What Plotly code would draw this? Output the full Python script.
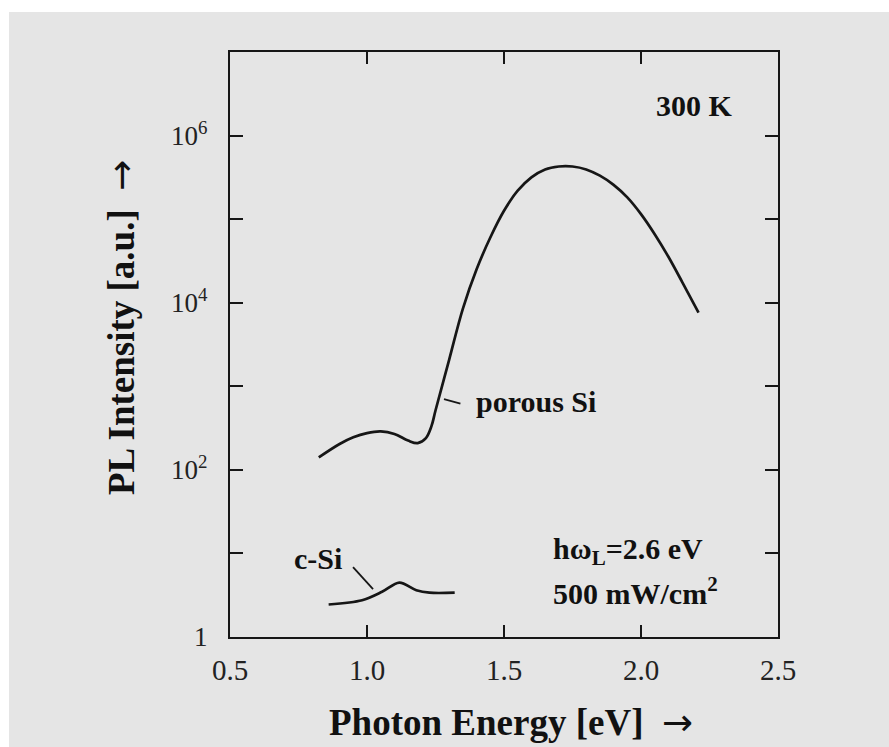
import plotly.graph_objects as go

# ---- data ----
porous_E = [0.824, 0.90, 0.95, 1.00, 1.05, 1.10, 1.15, 1.185, 1.215, 1.235,
            1.25, 1.30, 1.35, 1.40, 1.45, 1.50, 1.55, 1.60, 1.65, 1.70,
            1.75, 1.80, 1.85, 1.90, 1.95, 2.00, 2.05, 2.10, 2.15, 2.21]
porous_I = [141, 204, 245, 275, 288, 269, 224, 209, 240, 331,
            513, 2089, 8511, 25119, 60256, 125893, 218776, 316228, 393550, 426580,
            426580, 393550, 331131, 257040, 181970, 114815, 66069, 35481, 17783, 7586]

csi_E = [0.86, 0.982, 1.055, 1.118, 1.18, 1.228, 1.32]
csi_I = [2.45, 2.75, 3.47, 4.47, 3.63, 3.39, 3.39]

# leader lines of the curve labels
csi_lead_E = [0.949, 1.022]
csi_lead_I = [6.87, 3.75]
por_lead_E = [1.281, 1.341]
por_lead_I = [700, 620]

x_tickvals = [0.5, 1.0, 1.5, 2.0, 2.5]
x_ticktext = ["0.5", "1.0", "1.5", "2.0", "2.5"]
y_tickvals = [1, 100, 1e4, 1e6]
y_ticktext = ["1", "10<sup>2</sup>", "10<sup>4</sup>", "10<sup>6</sup>"]
y_minorvals = [10, 1e3, 1e5, 1e7]

# ---- layout geometry (pixels) ----
W, H = 889, 747
L, R, T, B = 230, 111, 52, 110
PW, PH = W - L - R, H - T - B


def px(x):
    return (x - L) / PW


def py(y):
    return (H - B - y) / PH


SERIF = "Liberation Serif, Times New Roman, serif"
INK = "#161616"
ARROW = "<span style=\"font-family:'DejaVu Sans';font-weight:normal\">→</span>"

fig = go.Figure()
fig.add_trace(go.Scatter(x=porous_E, y=porous_I, mode="lines",
                         line=dict(color=INK, width=2.7, shape="spline", smoothing=1.0),
                         hoverinfo="skip", showlegend=False))
fig.add_trace(go.Scatter(x=csi_E, y=csi_I, mode="lines",
                         line=dict(color=INK, width=2.7, shape="spline", smoothing=0.9),
                         hoverinfo="skip", showlegend=False))
fig.add_trace(go.Scatter(x=csi_lead_E, y=csi_lead_I, mode="lines",
                         line=dict(color=INK, width=1.8), hoverinfo="skip", showlegend=False))
fig.add_trace(go.Scatter(x=por_lead_E, y=por_lead_I, mode="lines",
                         line=dict(color=INK, width=1.8), hoverinfo="skip", showlegend=False))

axis_common = dict(showline=True, linecolor=INK, linewidth=2.2, mirror="ticks",
                   ticks="inside", tickcolor=INK, tickwidth=1.8, showgrid=False,
                   zeroline=False)

fig.update_xaxes(range=[0.5, 2.5], tickvals=x_tickvals, ticktext=x_ticktext,
                 ticklen=12, ticklabelstandoff=6,
                 tickfont=dict(family=SERIF, size=29, color="#222"), **axis_common)
fig.update_yaxes(type="log", range=[0, 7], tickvals=y_tickvals, ticktext=y_ticktext,
                 ticklen=13, ticklabelstandoff=15,
                 minor=dict(tickvals=y_minorvals, ticks="inside", ticklen=13,
                            tickwidth=1.8, tickcolor=INK, showgrid=False),
                 tickfont=dict(family=SERIF, size=27, color="#222"), **axis_common)

bold = dict(family=SERIF, size=30, color="#111")
annotations = [
    dict(text="<b>300 K</b>", x=px(694), y=py(105), font=bold),
    dict(text="<b>porous Si</b>", x=px(536), y=py(401), font=bold),
    dict(text="<b>c-Si</b>", x=px(318), y=py(558), font=bold),
    dict(text="<b>hω<sub>L</sub>=2.6 eV</b>", x=px(551), y=py(551), xanchor="left", font=bold),
    dict(text="<b>500 mW/cm<sup>2</sup></b>", x=px(551), y=py(591), xanchor="left", font=bold),
    dict(text="<b>Photon Energy [eV]  " + ARROW + "</b>", x=px(511), y=py(722),
         font=dict(family=SERIF, size=37, color="#111")),
    dict(text="<b>PL Intensity [a.u.]  " + ARROW + "</b>", x=px(121), y=py(328), textangle=-90,
         font=dict(family=SERIF, size=37, color="#111")),
]
for a in annotations:
    a.setdefault("xanchor", "center")
    a.update(xref="paper", yref="paper", showarrow=False, yanchor="middle")
fig.update_layout(annotations=annotations)

# white strips at the top and left edge of the scanned page
fig.add_shape(type="rect", xref="paper", yref="paper", x0=px(-5), x1=px(9), y0=py(760), y1=py(-5),
              fillcolor="white", line_width=0, layer="below")
fig.add_shape(type="rect", xref="paper", yref="paper", x0=px(-5), x1=px(900), y0=py(12), y1=py(-5),
              fillcolor="white", line_width=0, layer="below")

fig.update_layout(width=W, height=H, margin=dict(l=L, r=R, t=T, b=B),
                  paper_bgcolor="#e5e5e5", plot_bgcolor="#e5e5e5", showlegend=False)

fig.write_html("out.html")
